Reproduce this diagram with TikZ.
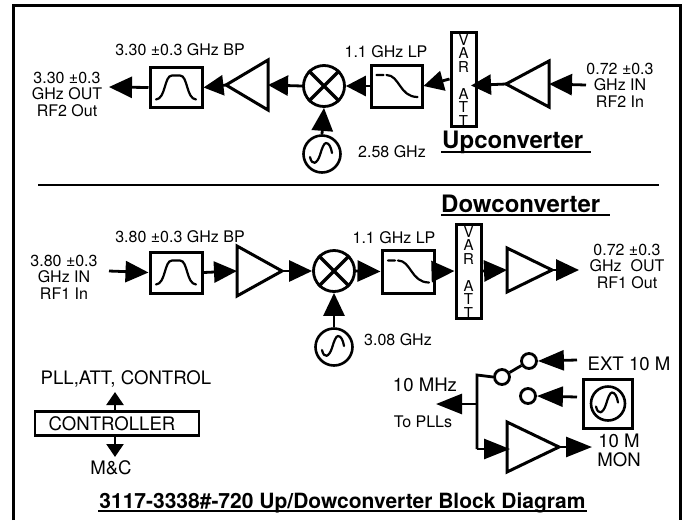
\documentclass[tikz,border=0pt]{standalone}
\usepackage{fontspec}
\setmainfont{TeX Gyre Heros}
\usetikzlibrary{arrows.meta,calc}
\tikzset{
  x=1pt,y=-1pt,
  wire/.style={line width=2.8pt,-{Triangle[length=23pt,width=21pt]}},
  wirelong/.style={line width=2.8pt,-{Triangle[length=26pt,width=20pt]}},
  small/.style={line width=2.8pt,-{Triangle[length=20pt,width=20pt]}},
  plain/.style={line width=2.8pt},
  blk/.style={draw,line width=3pt,inner sep=0pt,fill=white},
  mixer/.style={draw,circle,line width=2.8pt,minimum size=41pt,inner sep=0pt},
  osc/.style={draw,circle,line width=2.6pt,minimum size=37pt,inner sep=0pt},
  port/.style={draw,circle,line width=2.8pt,minimum size=15pt,inner sep=0pt,fill=white},
  lbl/.style={font=\fontsize{16}{16.5}\selectfont,align=center,inner sep=0pt},
  big/.style={font=\fontsize{18.6}{19}\selectfont,align=center,inner sep=0pt},
  vert/.style={font=\fontsize{15}{13.5}\selectfont,align=center,inner sep=0pt},
  head/.style={font=\bfseries\fontsize{24}{26}\selectfont,inner sep=0pt},
  curve/.style={line width=2.2pt,line cap=round},
  tri/.style={draw,line width=3pt,line join=miter}
}
% \ampbox{name}{apex x}{base x}{centre y}{half height}
\newcommand{\ampbox}[5]{%
  \coordinate (#1-apex) at (#2,#4);
  \coordinate (#1-base) at (#3,#4);
  \draw[tri] (#2,#4) -- (#3,#4-#5) -- (#3,#4+#5) -- cycle;}
\newcommand{\bpcurve}[1]{\draw[curve] ($(#1)+(-20,12)$) .. controls ($(#1)+(-10,11)$) and ($(#1)+(-12,-12)$) .. ($(#1)+(-4,-12)$) -- ($(#1)+(4,-12)$) .. controls ($(#1)+(12,-12)$) and ($(#1)+(10,11)$) .. ($(#1)+(20,12)$);}
\newcommand{\lpcurve}[1]{\draw[curve] ($(#1)+(-20,-11)$) -- ($(#1)+(-13,-11)$) ($(#1)+(-10,-11)$) .. controls ($(#1)+(3,-11)$) and ($(#1)+(3,11)$) .. ($(#1)+(21,11)$);}
\newcommand{\sinecurve}[1]{\draw[curve] ($(#1)+(-12,3)$) .. controls ($(#1)+(-10,12)$) and ($(#1)+(-5,10)$) .. ($(#1)+(-2,1)$) .. controls ($(#1)+(0,-6)$) and ($(#1)+(2,-11)$) .. ($(#1)+(4,-11)$) .. controls ($(#1)+(7,-11)$) and ($(#1)+(9,-7)$) .. ($(#1)+(10,-1)$);}
\newcommand{\crossmix}[1]{\draw[line width=3.4pt] (#1.45) -- (#1.225) (#1.135) -- (#1.315);}
\begin{document}
\begin{tikzpicture}
\useasboundingbox (0,0) rectangle (688,520);
\draw[line width=3pt] (13.5,520) -- (13.5,5.5) -- (680.5,5.5) -- (680.5,520);
\draw[line width=2.8pt] (38,185) -- (659,185);

% ---- Upconverter
\node[blk,minimum width=52pt,minimum height=40pt] (ubp) at (176,87.5) {};
\bpcurve{ubp}
\ampbox{ua1}{226}{268}{85}{25}
\node[mixer] (umix) at (324,86) {};
\crossmix{umix}
\node[osc] (uosc) at (322,154) {};
\sinecurve{uosc}
\node[blk,minimum width=51pt,minimum height=42pt] (ulp) at (396.5,86) {};
\lpcurve{ulp}
\node[blk,minimum width=25pt,minimum height=94pt] (uatt) at (463.5,79) {};
\node[vert,anchor=north] (uattt) at (463.5,34) {V\\A\\R\\[13.5pt]A\\T\\T};
\ampbox{ua2}{506}{549}{84}{23}
\coordinate (uin) at (586,85);
\coordinate (uout) at (109,87);
\coordinate (uattin) at (471,85.5);
\draw[wire] (ubp.west) -- (uout);
\draw[small] (ua1-apex) -- (ubp.east);
\draw[small] (umix.west) -- (ua1-base);
\draw[wire] (uosc.north) -- (umix.south);
\draw[small] (ulp.west) -- (umix.east);
\draw[small] (uatt.west) -- (ulp.east);
\draw[small] (ua2-apex) -- (uattin);
\draw[wire] (uin) -- (ua2-base);

\node[lbl] (t1) at (67,94) {3.30 ±0.3\\GHz OUT\\RF2 Out};
\node[lbl] (t2) at (180,50) {3.30 ±0.3 GHz BP};
\node[lbl] (t3) at (386,52) {1.1 GHz LP};
\node[lbl] (t4) at (620,85) {0.72 ±0.3\\GHz IN\\RF2 In};
\node[lbl] (t5) at (392,152) {2.58 GHz};
\node[head,anchor=base west] (uh) at (442,148) {Upconverter};
\draw[line width=1.4pt] (441,152) -- (591,152);

% ---- Downconverter
\node[blk,minimum width=52pt,minimum height=41pt] (dbp) at (176,272.5) {};
\bpcurve{dbp}
\ampbox{da1}{282}{237}{271}{25}
\node[mixer] (dmix) at (334,271) {};
\crossmix{dmix}
\node[osc] (dosc) at (334,347) {};
\sinecurve{dosc}
\node[blk,minimum width=52pt,minimum height=43pt] (dlp) at (408,271.5) {};
\lpcurve{dlp}
\node[blk,minimum width=25pt,minimum height=94pt] (datt) at (468.5,271) {};
\node[vert,anchor=north] (dattt) at (468.5,226) {V\\A\\R\\[13.5pt]A\\T\\T};
\ampbox{da2}{552}{507}{270}{22}
\coordinate (din) at (109,271);
\coordinate (dout) at (579,270);
\draw[wire] (din) -- (dbp.west);
\draw[wire] (dbp.east) -- (da1-base);
\draw[wire] (da1-apex) -- (dmix.west);
\draw[wire] (dosc.north) -- (dmix.south);
\draw[wire] (dmix.east) -- (dlp.west);
\draw[wire] (dlp.east) -- (datt.west);
\draw[wire] (datt.east) -- (da2-base);
\draw[wire] (da2-apex) -- (dout);

\node[lbl] (t6) at (64,277) {3.80 ±0.3\\GHz IN\\RF1 In};
\node[lbl] (t7) at (180,237) {3.80 ±0.3 GHz BP};
\node[lbl] (t8) at (394,238) {1.1 GHz LP};
\node[lbl] (t9) at (627,266) {0.72 ±0.3\\GHz\ \ OUT\\RF1 Out};
\node[lbl] (t10) at (398,340) {3.08 GHz};
\node[head,anchor=base west] (dh) at (441,212) {Dowconverter};
\draw[line width=1.4pt] (441,215) -- (610,215);

% ---- Controller
\node[draw,line width=2.4pt,minimum width=164pt,minimum height=24pt,inner sep=0pt] (ctl) at (117,423.5) {};
\node[big] (ctlt) at (112,424) {CONTROLLER};
\coordinate (cup) at (115,392);
\coordinate (cdn) at (115,457);
\draw[line width=2.4pt,-{Triangle[length=13pt,width=17pt]}] (ctl.north -| cup) -- (cup);
\draw[line width=2.4pt,-{Triangle[length=13pt,width=17pt]}] (ctl.south -| cdn) -- (cdn);
\node[big] (t11) at (126,379) {PLL,ATT, CONTROL};
\node[big] (t12) at (111,468) {M\&C};

% ---- 10 MHz reference
\node[port] (p1) at (502,377) {};
\node[port] (p2) at (529,361) {};
\node[port] (p3) at (528,396) {};
\draw[plain] (p1) -- (p2);
\node[blk,minimum width=49pt,minimum height=49pt] (refbox) at (607.5,403.5) {};
\node[osc,minimum size=34pt] (refosc) at (608,403.5) {};
\sinecurve{refosc}
\ampbox{ma}{559}{507}{447}{25}
\coordinate (junc) at (477,404);
\coordinate (toplls) at (436,404);
\coordinate (ext) at (577,360);
\coordinate (mon) at (592,447);
\coordinate (refout) at (577,397);
\coordinate (corner) at (477,449);
\coordinate (bend) at (477,375);
\coordinate (main) at (510,449);
\draw[plain] (p1.west) -- (bend) -- (corner);
\draw[wirelong] (junc) -- (toplls);
\draw[wirelong] (corner) -- (main);
\draw[wirelong] (ma-apex) -- (mon);
\draw[wirelong] (ext) -- (p2.east);
\draw[wirelong] (refout) -- (p3.east);
\node[big] (t13) at (425,385) {10 MHz};
\node[lbl] (t14) at (423,422) {To PLLs};
\node[big] (t15) at (629,364) {EXT 10 M};
\node[big] (t16) at (619,450) {10 M\\MON};
\node[font=\bfseries\fontsize{21}{23}\selectfont,inner sep=0pt,anchor=base] (title) at (342.5,508) {3117-3338\#-720 Up/Dowconverter Block Diagram};
\draw[line width=1.3pt] (98,511) -- (587,511);
\end{tikzpicture}
\end{document}
